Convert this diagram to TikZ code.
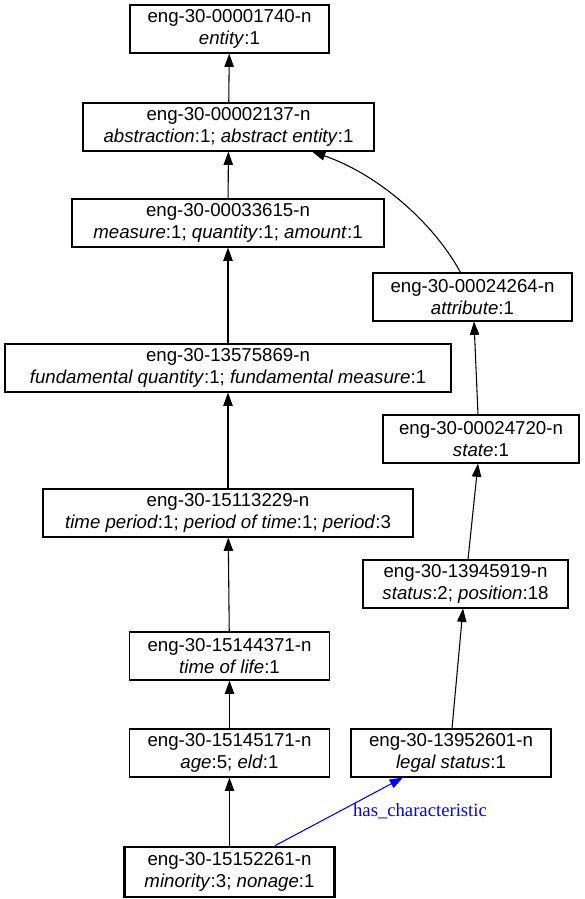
\documentclass[tikz,border=0pt]{standalone}
\usepackage{fontspec}
\setmainfont{Liberation Sans}
\newfontfamily\relfont{Liberation Serif}
\usetikzlibrary{arrows.meta,calc}

\begin{document}
\begin{tikzpicture}[x=0.75pt,y=-0.75pt,
  synset/.style={draw, line width=0.8pt, rectangle, minimum height=36pt, inner sep=1pt,
    align=center, font=\fontsize{14}{16.8}\selectfont},
  hyper/.style={-{Triangle[length=10pt,width=7pt]}, line width=0.8pt}]
\useasboundingbox (0,0) rectangle (585,899);

\node[synset, minimum width=149.25pt] (entity) at (229.5,29) {eng-30-00001740-n\\\textit{entity}:1};
\node[synset, minimum width=218.25pt] (abstraction) at (228.5,127) {eng-30-00002137-n\\\textit{abstraction}:1; \textit{abstract entity}:1};
\node[synset, minimum width=234pt] (measure) at (228,223) {eng-30-00033615-n\\\textit{measure}:1; \textit{quantity}:1; \textit{amount}:1};
\node[synset, minimum width=149.25pt] (attribute) at (472.5,297) {eng-30-00024264-n\\\textit{attribute}:1};
\node[synset, minimum width=334.5pt] (fundamental) at (228,368) {eng-30-13575869-n\\\textit{fundamental quantity}:1; \textit{fundamental measure}:1};
\node[synset, minimum width=147pt] (state) at (481,439) {eng-30-00024720-n\\\textit{state}:1};
\node[synset, minimum width=277.5pt] (period) at (228,513) {eng-30-15113229-n\\\textit{time period}:1; \textit{period of time}:1; \textit{period}:3};
\node[synset, minimum width=153.75pt] (status) at (465.5,584) {eng-30-13945919-n\\\textit{status}:2; \textit{position}:18};
\node[synset, minimum width=150pt] (timeoflife) at (229.5,656) {eng-30-15144371-n\\\textit{time of life}:1};
\node[synset, minimum width=150pt] (age) at (229.5,753) {eng-30-15145171-n\\\textit{age}:5; \textit{eld}:1};
\node[synset, minimum width=150pt] (legal) at (451,753) {eng-30-13952601-n\\\textit{legal status}:1};
\node[synset, minimum width=157.5pt, minimum height=37.5pt, line width=2pt] (minority) at (229.5,872) {eng-30-15152261-n\\\textit{minority}:3; \textit{nonage}:1};

\draw[hyper] (abstraction) -- (entity);
\draw[hyper] (measure) -- (abstraction);
\draw[hyper] ($(attribute.north)+(-12,0)$) .. controls (435,225) and (380,175) .. ($(abstraction.south)+(83.5,0)$);
\draw[hyper] (fundamental) -- (measure);
\draw[hyper] ($(state.north)+(-3,0)$) -- ($(attribute.south)+(1.5,0)$);
\draw[hyper] (period) -- (fundamental);
\draw[hyper] ($(status.north)+(2.5,0)$) -- ($(state.south)+(-3,0)$);
\draw[hyper] (timeoflife) -- (period);
\draw[hyper] ($(legal.north)+(1,0)$) -- ($(status.south)+(-2.5,0)$);
\draw[hyper] (age) -- (timeoflife);
\draw[hyper] (minority) -- (age);

\draw[hyper, blue] ($(minority.north)+(45.5,0)$) -- ($(legal.south)+(-48,0)$);
\node[text=blue, font=\relfont\fontsize{14}{16.8}\selectfont] (haschar) at (420,811) {has\_characteristic};
\end{tikzpicture}
\end{document}
